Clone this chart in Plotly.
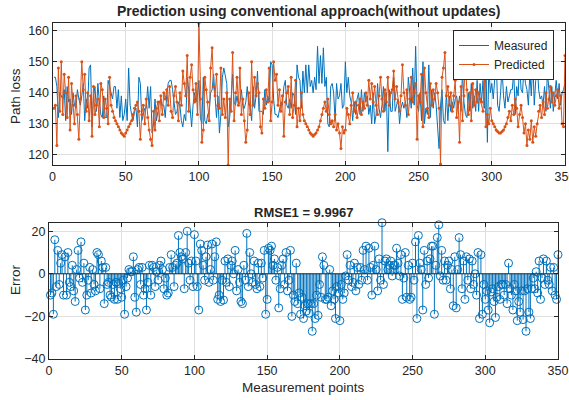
import plotly.graph_objects as go

# ---------------- data ----------------
points = list(range(1, 351))

measured = [
    145, 145, 142, 132, 140, 139, 138, 141, 131, 142,
    137, 138, 133, 140, 136, 135, 141, 138, 136, 139,
    143, 131, 138, 135, 148, 149, 129, 139, 142, 134,
    143, 137, 133, 132, 139, 132, 132, 144, 142, 141,
    138, 142, 142, 135, 141, 132, 139, 131, 133, 138,
    131, 148, 136, 133, 131, 134, 135, 129, 145, 143,
    131, 133, 135, 135, 142, 135, 142, 127, 130, 138,
    131, 134, 137, 138, 136, 136, 132, 139, 143, 144,
    144, 141, 136, 133, 134, 137, 136, 131, 129, 133,
    131, 145, 141, 135, 129, 136, 140, 137, 139, 144,
    132, 130, 145, 131, 130, 133, 134, 140, 141, 146,
    137, 132, 139, 127, 133, 145, 148, 145, 143, 129,
    132, 138, 146, 137, 136, 139, 136, 137, 141, 136,
    135, 137, 142, 136, 136, 131, 142, 135, 139, 147,
    134, 134, 134, 133, 141, 136, 139, 137, 150, 149,
    138, 133, 133, 132, 134, 137, 136, 142, 144, 136,
    135, 138, 135, 140, 139, 133, 149, 145, 144, 135,
    147, 140, 149, 140, 149, 142, 144, 140, 145, 141,
    155, 143, 152, 143, 154.5, 142, 145, 130, 129, 142,
    143, 140, 131, 143, 138, 139, 143, 135, 136, 150,
    140, 145, 139, 137, 131, 137, 133, 138, 140, 133,
    141, 134, 140, 137, 139, 133, 136, 130, 140, 130,
    133, 143, 135, 132, 136, 142, 134, 140, 121, 141,
    134, 134, 145, 134, 136, 138, 130, 135, 137, 135,
    137, 132, 145, 140, 135, 148, 136, 155, 136, 134,
    140, 131, 150, 130, 135, 133, 149, 132, 141, 135,
    140, 136, 127, 122, 136, 141, 131, 130, 140, 131,
    139, 134, 137, 135, 138, 139, 135, 139, 134, 147,
    137, 133, 132, 140, 134, 143, 135, 139, 134, 144,
    134, 143, 137, 144, 135, 150, 124, 149, 140, 143,
    138, 146, 151, 136, 134, 140, 148, 139, 135, 142,
    137, 139, 141, 141, 147, 133, 142, 139, 150, 141,
    140, 149, 143, 141, 136, 146.5, 139, 151, 136, 144,
    151, 141, 138, 139, 136, 142, 134, 147, 140, 135,
    142, 134, 139, 144, 138, 143, 136, 140, 141, 143,
]

predicted = [
    135, 136, 123, 148, 134, 150, 133, 146, 140, 132,
    145, 128, 143, 136, 130, 139, 133, 125, 138, 150,
    141, 146, 134, 140, 131, 139, 126, 142, 133, 136,
    138, 129, 143, 141, 132, 138, 135, 130, 145, 136,
    134, 132, 131, 130, 129, 128, 127, 126.5, 126, 127,
    128, 129, 130, 131, 133, 135, 136, 137, 134, 125,
    133, 136, 130, 138, 132, 128, 125, 123, 134, 128,
    135, 137, 131, 139, 133, 140, 138, 141, 136, 142,
    134, 132, 139, 142, 137, 131, 140, 136, 147, 143,
    139, 152, 134, 145, 149, 141, 137, 143, 133, 162.4,
    138, 124, 128, 145, 141, 137, 131, 148, 154.5, 142,
    139, 146, 136, 135, 148, 133, 138, 132, 140, 116.7,
    138, 134, 153, 131, 140, 145, 136, 148, 133, 138,
    131, 124, 128, 140, 133, 150, 136, 145, 139, 143,
    140, 129, 127, 138, 135, 141, 137, 148, 131, 137,
    150, 144, 146, 136, 141, 134, 139, 126, 137, 140,
    142, 133, 145, 132, 136, 144, 129, 135, 131, 140,
    133, 131, 130, 129, 128, 127, 126.5, 126, 126.5, 127,
    128, 129, 131, 133, 135, 137, 134, 138, 133, 130,
    131, 129, 133, 128, 130, 127, 122, 129, 127, 128,
    135, 133, 130, 136, 140, 134, 137, 132, 136, 138,
    133, 137, 135, 140, 136, 144, 138, 143, 137, 142,
    136, 133, 139, 145, 138, 134, 141, 137, 145, 136,
    140, 141, 147, 138, 142, 137, 134, 139, 149, 140,
    136, 141, 133, 138, 145, 137, 140, 143, 125, 139,
    137, 146, 129, 148, 140, 135, 132, 143, 136, 141,
    138, 143, 140, 135, 117, 145, 148, 153, 139, 142,
    136, 140, 134, 139, 144, 132, 137, 124, 142, 131,
    139, 150, 141, 133, 140, 131, 143, 136, 141, 137,
    140, 138, 137, 134, 145, 129, 133, 130, 135, 131,
    130, 129, 128, 127.5, 127, 127, 127.5, 128, 129, 130,
    132, 134, 131, 136, 133, 138, 135, 129, 133, 136,
    132, 127, 130, 123, 128, 125, 131, 124, 129, 126,
    130, 134, 136, 132, 137, 133, 140, 135, 138, 142,
    137, 140, 136, 139, 141, 135, 139, 130, 129, 152,
]

assert len(measured) == len(points) and len(predicted) == len(points)

# error as plotted in the reference: predicted - measured
error = [p - m for p, m in zip(predicted, measured)]

top_xticks = [0, 50, 100, 150, 200, 250, 300, 350]
top_yticks = [120, 130, 140, 150, 160]
bot_yticks = [-40, -20, 0, 20]

BLUE = "#0072BD"
ORANGE = "#D95319"
AX = "#262626"
GRID = "#e0e0e0"
FONT = "Liberation Sans, Arial, Helvetica, sans-serif"
W, H = 569, 400


def px(x):
    return x / W


def py(y):
    return 1 - y / H


fig = go.Figure()

fig.add_trace(go.Scatter(
    x=points, y=measured, mode="lines", name="Measured",
    line=dict(color=BLUE, width=1), xaxis="x", yaxis="y"))
fig.add_trace(go.Scatter(
    x=points, y=predicted, mode="lines+markers", name="Predicted",
    line=dict(color=ORANGE, width=1),
    marker=dict(color=ORANGE, size=3, symbol="circle"),
    xaxis="x", yaxis="y"))

# stem lines
sx, sy = [], []
for xi, ei in zip(points, error):
    sx += [xi, xi, None]
    sy += [0, ei, None]
fig.add_trace(go.Scatter(
    x=sx, y=sy, mode="lines", line=dict(color=BLUE, width=1),
    showlegend=False, xaxis="x2", yaxis="y2", hoverinfo="skip"))
fig.add_trace(go.Scatter(
    x=points, y=error, mode="markers",
    marker=dict(symbol="circle-open", size=8, color=BLUE,
                line=dict(color=BLUE, width=1)),
    showlegend=False, cliponaxis=False, xaxis="x2", yaxis="y2"))

axis_common = dict(
    showline=True, linecolor=AX, linewidth=1, mirror="ticks",
    ticks="inside", ticklen=4, tickcolor=AX, showgrid=True,
    gridcolor=GRID, gridwidth=1, zeroline=False, automargin=False,
    ticklabeloverflow="allow",
    tickfont=dict(family=FONT, size=12.5, color=AX))

fig.update_layout(
    width=W, height=H,
    margin=dict(l=0, r=0, t=0, b=0),
    paper_bgcolor="white", plot_bgcolor="white",
    font=dict(family=FONT, color=AX),
    xaxis=dict(domain=[px(52.5), px(565)], range=[0, 350],
               tickvals=top_xticks, anchor="y", **axis_common),
    yaxis=dict(domain=[py(165), py(23)], range=[116.7, 162.5],
               tickvals=top_yticks, anchor="x", **axis_common),
    xaxis2=dict(domain=[px(49), px(558)], range=[0, 350],
                tickvals=top_xticks, anchor="y2", **axis_common),
    yaxis2=dict(domain=[py(359), py(222.7)], range=[-40, 24],
                tickvals=bot_yticks, anchor="x2", **axis_common),
    showlegend=True,
    legend=dict(x=px(554), y=py(30), xanchor="right", yanchor="top",
                bordercolor=AX, borderwidth=1, bgcolor="white",
                font=dict(family=FONT, size=12, color=AX),
                itemwidth=30, tracegroupgap=0),
    shapes=[dict(type="line", xref="x2", yref="y2", x0=0, x1=350,
                 y0=0, y1=0, line=dict(color=AX, width=1), layer="above")],
)

ann = [
    dict(text="<b>Prediction using conventional approach(without updates)</b>",
         x=px(308), y=py(11), size=14, angle=0),
    dict(text="<b>RMSE1 = 9.9967</b>", x=px(303), y=py(212), size=13, angle=0),
    dict(text="Measurement points", x=px(303), y=py(387), size=13.5, angle=0),
    dict(text="Path loss", x=px(15), y=py(96), size=13.5, angle=-90),
    dict(text="Error", x=px(15), y=py(280), size=13.5, angle=-90),
]
for a in ann:
    fig.add_annotation(text=a["text"], x=a["x"], y=a["y"], xref="paper",
                       yref="paper", showarrow=False, xanchor="center",
                       yanchor="middle", textangle=a["angle"],
                       font=dict(family=FONT, size=a["size"], color=AX))

fig.write_html("out.html",
               config={"displayModeBar": False},
               post_script="document.body.style.margin='0';"
                           "document.body.style.overflow='hidden';")
